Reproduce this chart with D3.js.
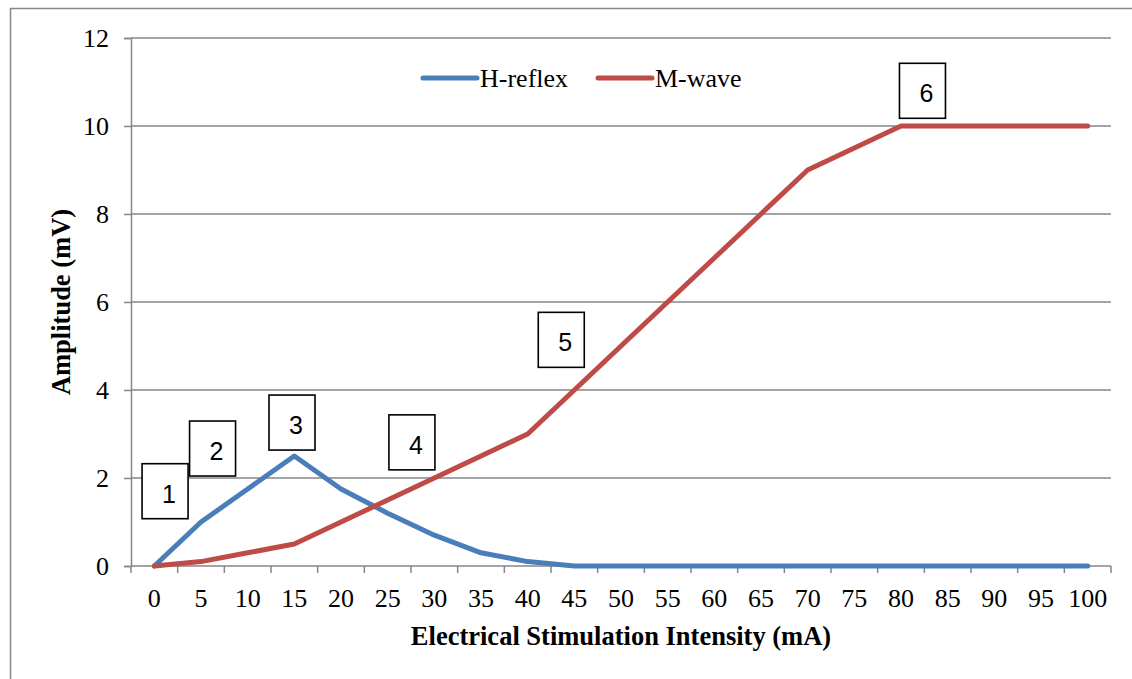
<!DOCTYPE html>
<html>
<head>
<meta charset="utf-8">
<script src="https://cdnjs.cloudflare.com/ajax/libs/d3/7.8.5/d3.min.js"></script>
<style>
  html, body { margin: 0; padding: 0; background: #fff; }
  svg { display: block; }
</style>
</head>
<body>
<svg id="chart" width="1132" height="679"></svg>
<script>
// Stimulation intensities (mA) along the x axis
const intensities = [0, 5, 10, 15, 20, 25, 30, 35, 40, 45, 50, 55, 60, 65, 70, 75, 80, 85, 90, 95, 100];
// Response amplitudes (mV)
const hReflex = [0, 1, 1.75, 2.5, 1.75, 1.2, 0.7, 0.3, 0.1, 0, 0, 0, 0, 0, 0, 0, 0, 0, 0, 0, 0];
const mWave   = [0, 0.1, 0.3, 0.5, 1, 1.5, 2, 2.5, 3, 4, 5, 6, 7, 8, 9, 9.5, 10, 10, 10, 10, 10];
const yTicks = [0, 2, 4, 6, 8, 10, 12];
const seriesNames = ["H-reflex", "M-wave"];
const stageLabels = ["1", "2", "3", "4", "5", "6"];

const svg = d3.select("#chart");
const W = 1132, H = 679;
const plot = { left: 131, right: 1111, top: 38, bottom: 566 };
const gridColor = "#868686";
const colors = ["#4A7EBB", "#BE4B48"];
const serif = "'Liberation Serif', 'Times New Roman', serif";

// Outer frame (right and bottom edges fall outside the view)
svg.append("path")
  .attr("d", `M10.5,${H + 5} V8.5 H${W + 5}`)
  .attr("fill", "none").attr("stroke", gridColor).attr("stroke-width", 1.5);

const x = d3.scaleBand().domain(intensities).range([plot.left, plot.right]);
const y = d3.scaleLinear().domain([0, 12]).range([plot.bottom, plot.top]);

// Horizontal gridlines
svg.append("g").selectAll("line").data(yTicks.filter(d => d > 0)).join("line")
  .attr("x1", plot.left).attr("x2", plot.right)
  .attr("y1", d => y(d)).attr("y2", d => y(d))
  .attr("stroke", gridColor).attr("stroke-width", 1.5);

// Y axis
const yAxis = svg.append("g").attr("transform", `translate(${plot.left},0)`)
  .call(d3.axisLeft(y).tickValues(yTicks).tickSize(7).tickPadding(15).tickFormat(d3.format("d")));
yAxis.select(".domain").attr("stroke", gridColor).attr("stroke-width", 1.5);
yAxis.selectAll(".tick line").attr("stroke", gridColor).attr("stroke-width", 1.5);
yAxis.selectAll(".tick text").attr("font-family", serif).attr("font-size", 26).attr("fill", "#000");

// X axis: ticks on the category boundaries
const xAxisG = svg.append("g").attr("transform", `translate(0,${plot.bottom})`);
xAxisG.append("line").attr("x1", plot.left).attr("x2", plot.right)
  .attr("stroke", gridColor).attr("stroke-width", 1.5);
const boundaries = intensities.map(d => x(d)).concat([plot.right]);
xAxisG.selectAll("line.tk").data(boundaries).join("line").attr("class", "tk")
  .attr("x1", d => d).attr("x2", d => d).attr("y1", 0).attr("y2", 7)
  .attr("stroke", gridColor).attr("stroke-width", 1.5);
xAxisG.selectAll("text").data(intensities).join("text")
  .attr("x", d => x(d) + x.bandwidth() / 2).attr("y", 41)
  .attr("text-anchor", "middle")
  .attr("font-family", serif).attr("font-size", 26).attr("fill", "#000")
  .text(d => d);

// Axis titles
svg.append("text").attr("x", (plot.left + plot.right) / 2).attr("y", 645)
  .attr("text-anchor", "middle").attr("font-family", serif).attr("font-size", 26.5)
  .attr("font-weight", "bold").text("Electrical Stimulation Intensity (mA)");
svg.append("text").attr("transform", `translate(70,${(plot.top + plot.bottom) / 2}) rotate(-90)`)
  .attr("text-anchor", "middle").attr("font-family", serif).attr("font-size", 26.5)
  .attr("font-weight", "bold").text("Amplitude (mV)");

// Series lines
const line = d3.line().x((d, i) => x(intensities[i]) + x.bandwidth() / 2).y(d => y(d));
[hReflex, mWave].forEach((s, k) => {
  svg.append("path").datum(s).attr("d", line)
    .attr("fill", "none").attr("stroke", colors[k]).attr("stroke-width", 5)
    .attr("stroke-linejoin", "round").attr("stroke-linecap", "round");
});

// Legend
const legendItems = [{ x: 423, tx: 480 }, { x: 598, tx: 655 }];
legendItems.forEach((p, k) => {
  svg.append("line").attr("x1", p.x).attr("x2", p.x + 54).attr("y1", 78).attr("y2", 78)
    .attr("stroke", colors[k]).attr("stroke-width", 5).attr("stroke-linecap", "round");
  svg.append("text").attr("x", p.tx).attr("y", 87).attr("font-family", serif)
    .attr("font-size", 26).attr("fill", "#000").text(seriesNames[k]);
});

// Numbered stage boxes, centred at (intensity, amplitude) in data space
const stageAnchors = [
  { mA: 1.15, mV: 1.70 }, { mA: 6.24, mV: 2.67 }, { mA: 14.75, mV: 3.26 },
  { mA: 27.6, mV: 2.81 }, { mA: 43.6, mV: 5.14 }, { mA: 82.3, mV: 10.8 }
];
const perMA = x.step() / 5;
const boxW = 46, boxH = 55;
const boxes = svg.append("g").selectAll("g").data(stageLabels).join("g")
  .attr("transform", (d, i) => {
    const a = stageAnchors[i];
    const cx = x(0) + x.bandwidth() / 2 + a.mA * perMA;
    return `translate(${cx},${y(a.mV)})`;
  });
boxes.append("rect").attr("x", -boxW / 2).attr("y", -boxH / 2)
  .attr("width", boxW).attr("height", boxH)
  .attr("fill", "#fff").attr("stroke", "#000").attr("stroke-width", 1.6);
boxes.append("text").attr("x", 4).attr("y", 11.5).attr("text-anchor", "middle")
  .attr("font-family", "'Liberation Sans', Arial, sans-serif").attr("font-size", 25)
  .attr("fill", "#000").text(d => d);
</script>
</body>
</html>
